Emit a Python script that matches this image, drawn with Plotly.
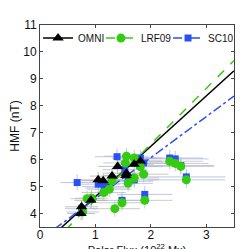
import plotly.graph_objects as go

# OMNI
omni_x = [0.74, 0.75, 0.92, 1.05, 1.14, 1.30, 1.40, 1.55, 1.56, 1.70, 1.81]
omni_y = [4.00, 4.25, 4.49, 5.25, 5.22, 5.39, 5.75, 5.41, 5.50, 5.83, 5.95]
omni_ex = [0.25, 0.3, 0.3, 0.4, 0.4, 0.4, 0.35, 0.4, 0.4, 0.35, 0.4]
omni_ey = [0.25, 0.25, 0.3, 0.3, 0.3, 0.3, 0.3, 0.3, 0.3, 0.3, 0.3]

# LRF09
lrf_x = [0.77, 0.85, 0.93, 1.15, 1.25, 1.30, 1.35, 1.48, 1.54, 1.56, 1.59, 1.70, 1.70, 1.81, 1.87, 1.89, 2.34, 2.44, 2.54, 2.64]
lrf_y = [4.06, 4.55, 4.57, 4.78, 4.90, 5.21, 4.18, 4.40, 5.88, 6.13, 5.12, 6.06, 5.32, 5.74, 5.46, 4.49, 5.94, 5.86, 5.75, 5.25]
lrf_ex = [0.3, 0.3, 0.3, 0.4, 0.4, 0.4, 0.45, 0.45, 0.4, 0.4, 0.45, 0.4, 0.45, 0.4, 0.45, 0.5, 0.6, 0.6, 0.6, 0.7]
lrf_ey = [0.3, 0.3, 0.3, 0.3, 0.3, 0.35, 0.3, 0.3, 0.3, 0.3, 0.3, 0.3, 0.3, 0.3, 0.3, 0.3, 0.3, 0.3, 0.3, 0.3]

# SC10
sc_x = [0.67, 0.75, 1.05, 1.16, 1.22, 1.39, 1.48, 1.53, 1.59, 1.70, 1.81, 1.87, 1.89, 2.34, 2.44, 2.54, 2.64]
sc_y = [5.15, 4.18, 5.09, 5.00, 4.95, 6.11, 4.49, 5.63, 5.20, 5.25, 6.06, 5.88, 4.71, 6.06, 6.03, 5.78, 5.36]
sc_ex = [0.3, 0.3, 0.4, 0.4, 0.4, 0.4, 0.45, 0.4, 0.45, 0.45, 0.4, 0.45, 0.5, 0.6, 0.6, 0.6, 0.7]
sc_ey = [0.3, 0.3, 0.3, 0.3, 0.3, 0.3, 0.3, 0.3, 0.3, 0.3, 0.3, 0.3, 0.3, 0.3, 0.3, 0.3, 0.3]

# Fit lines (x endpoints, y endpoints)
fit_x = [0.0, 3.5]
omni_fit = [2.76, 9.30]
lrf_fit = [2.44, 9.68]
sc_fit = [3.03, 8.36]

BLACK = "#000000"
GREEN = "#33cc11"
BLUE = "#2a4ff5"

fig = go.Figure()

def errs(x, y, ex, ey, color):
    fig.add_trace(go.Scatter(
        x=x, y=y, mode="markers", showlegend=False,
        marker=dict(size=0.1, color="rgba(0,0,0,0)"),
        error_x=dict(type="data", array=ex, color=color, thickness=1, width=0),
        error_y=dict(type="data", array=ey, color=color, thickness=1, width=0),
        hoverinfo="skip"))

errs(sc_x, sc_y, sc_ex, sc_ey, "rgba(165,170,235,0.7)")
errs(lrf_x, lrf_y, lrf_ex, lrf_ey, "rgba(175,185,175,0.7)")
errs(omni_x, omni_y, omni_ex, omni_ey, "rgba(165,165,165,0.7)")

fig.add_trace(go.Scatter(x=fit_x, y=omni_fit, mode="lines", showlegend=False,
                         line=dict(color=BLACK, width=1.5)))
fig.add_trace(go.Scatter(x=fit_x, y=lrf_fit, mode="lines", showlegend=False,
                         line=dict(color=GREEN, width=1.5, dash="dash")))
fig.add_trace(go.Scatter(x=fit_x, y=sc_fit, mode="lines", showlegend=False,
                         line=dict(color=BLUE, width=1.5, dash="dashdot")))

fig.add_trace(go.Scatter(x=sc_x, y=sc_y, mode="markers", showlegend=False,
                         marker=dict(symbol="square", size=7, color=BLUE)))
fig.add_trace(go.Scatter(x=lrf_x, y=lrf_y, mode="markers", showlegend=False,
                         marker=dict(symbol="circle", size=9, color=GREEN)))
fig.add_trace(go.Scatter(x=omni_x, y=omni_y, mode="markers", showlegend=False,
                         marker=dict(symbol="triangle-up", size=10, color=BLACK)))

# legend entries (one legend box each so they sit on one row)
fig.add_trace(go.Scatter(x=[None], y=[None], mode="lines+markers", name="OMNI",
                         legend="legend",
                         line=dict(color=BLACK, width=1.5),
                         marker=dict(symbol="triangle-up", size=10, color=BLACK)))
fig.add_trace(go.Scatter(x=[None], y=[None], mode="lines+markers", name="LRF09",
                         legend="legend2",
                         line=dict(color=GREEN, width=1.5, dash="dash"),
                         marker=dict(symbol="circle", size=9, color=GREEN)))
fig.add_trace(go.Scatter(x=[None], y=[None], mode="lines+markers", name="SC10",
                         legend="legend3",
                         line=dict(color=BLUE, width=1.5, dash="dashdot"),
                         marker=dict(symbol="square", size=7, color=BLUE)))

leg_common = dict(orientation="h", y=1.007, xanchor="left", yanchor="top",
                  bgcolor="rgba(0,0,0,0)", font=dict(size=10, color="#111111"),
                  itemwidth=30, itemsizing="trace")

axis_common = dict(showline=True, linecolor="#444444", linewidth=1, mirror="allticks",
                   ticks="inside", ticklen=3, tickcolor="#444444", showgrid=False,
                   zeroline=False, automargin=False, tickfont=dict(size=12, color="#111111"))

fig.update_layout(
    width=249, height=249,
    margin=dict(l=32, r=23, t=17, b=30, autoexpand=False),
    paper_bgcolor="white", plot_bgcolor="white",
    font=dict(family="Liberation Sans, Arial, sans-serif", size=12, color="#111111"),
    showlegend=True,
    legend=dict(x=-0.010, **leg_common),
    legend2=dict(x=0.314, **leg_common),
    legend3=dict(x=0.660, **leg_common),
    xaxis=dict(range=[0, 3.5], tickvals=[0, 1, 2, 3], ticklabelstandoff=-3,
               title=dict(text="Polar Flux (10<sup>22</sup> Mx)", font=dict(size=11), standoff=0),
               **axis_common),
    yaxis=dict(range=[3.5, 11], tickvals=[4, 5, 6, 7, 8, 9, 10, 11],
               title=dict(text="HMF (nT)", font=dict(size=12), standoff=4),
               **axis_common),
)

fig.write_html("out.html")
